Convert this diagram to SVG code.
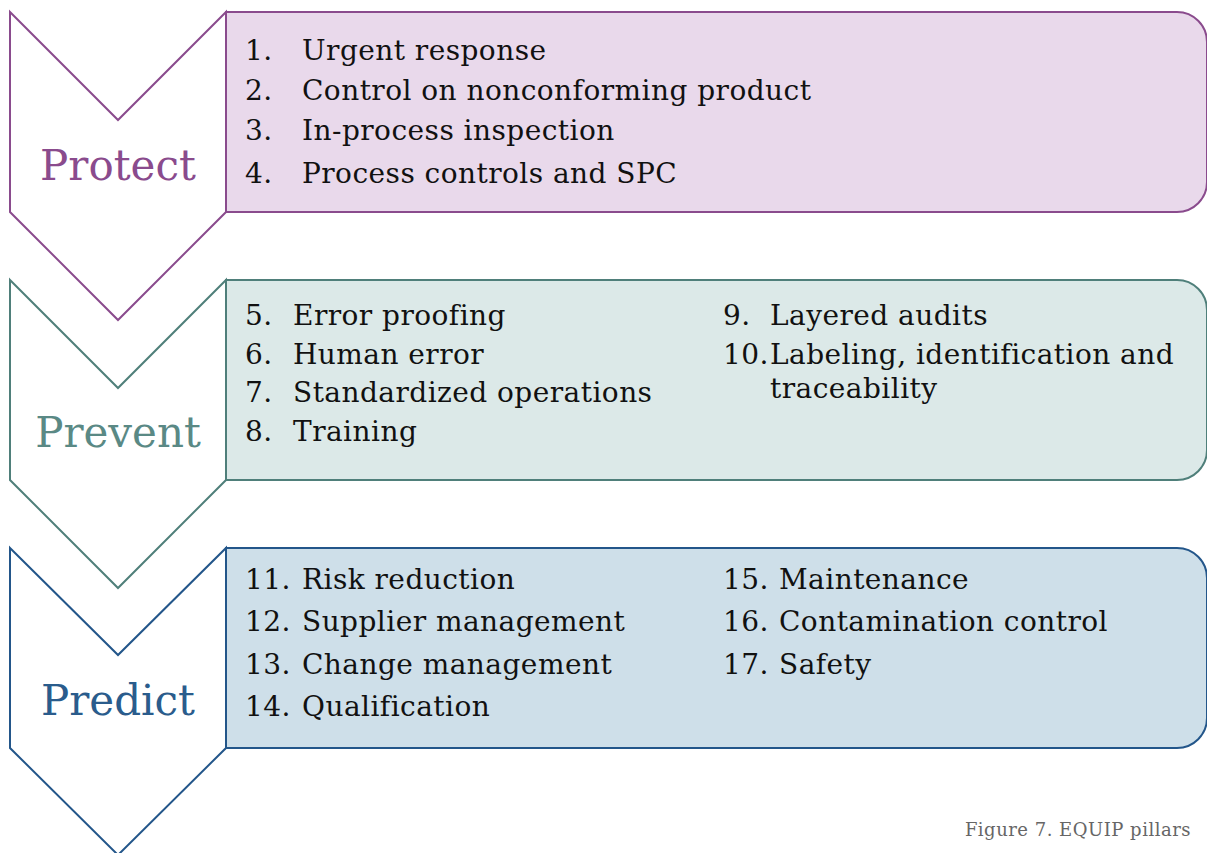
<svg xmlns="http://www.w3.org/2000/svg" width="1207" height="853" viewBox="0 0 1207 853">
<style>
.t{font-family:"DejaVu Serif","Liberation Serif",serif;font-size:28px;letter-spacing:0.45px;fill:#111}
.lbl{font-family:"DejaVu Serif","Liberation Serif",serif;font-size:42px;text-anchor:middle}
.cap{font-family:"DejaVu Serif","Liberation Serif",serif;font-size:18px;letter-spacing:0.5px;fill:#666}
.chev{fill:#fff;stroke-width:2}
.box{stroke-width:2}
</style>
<rect width="1207" height="853" fill="#fff"/>
<g id="protect">
<path class="chev" d="M10,12 L118,120 L226,12 L226,212 L118,320 L10,212 Z" stroke="#8A4B8D"/>
<path class="box" d="M226,12 H1177 A30,30 0 0 1 1207,42 V182 A30,30 0 0 1 1177,212 H226 Z" fill="#E9D9EB" stroke="#8A4B8D"/>
<text class="lbl" x="118" y="180" fill="#8A4B8D">Protect</text>
<text class="t" x="245" y="60">1.</text><text class="t" x="302" y="60">Urgent response</text>
<text class="t" x="245" y="100">2.</text><text class="t" x="302" y="100">Control on nonconforming product</text>
<text class="t" x="245" y="140">3.</text><text class="t" x="302" y="140">In-process inspection</text>
<text class="t" x="245" y="183">4.</text><text class="t" x="302" y="183">Process controls and SPC</text>
</g>
<g id="prevent">
<path class="chev" d="M10,280 L118,388 L226,280 L226,480 L118,588 L10,480 Z" stroke="#4F7F7A"/>
<path class="box" d="M226,280 H1177 A30,30 0 0 1 1207,310 V450 A30,30 0 0 1 1177,480 H226 Z" fill="#DCE9E8" stroke="#4F7F7A"/>
<text class="lbl" x="118" y="447" fill="#5A8985">Prevent</text>
<text class="t" x="245" y="325">5.</text><text class="t" x="293" y="325">Error proofing</text>
<text class="t" x="245" y="364">6.</text><text class="t" x="293" y="364">Human error</text>
<text class="t" x="245" y="402">7.</text><text class="t" x="293" y="402">Standardized operations</text>
<text class="t" x="245" y="441">8.</text><text class="t" x="293" y="441">Training</text>
<text class="t" x="723" y="325">9.</text><text class="t" x="770" y="325">Layered audits</text>
<text class="t" x="723" y="364">10.</text><text class="t" x="770" y="364">Labeling, identification and</text>
<text class="t" x="770" y="398">traceability</text>
</g>
<g id="predict">
<path class="chev" d="M10,548 L118,655 L226,548 L226,748 L118,855 L10,748 Z" stroke="#23568A"/>
<path class="box" d="M226,548 H1177 A30,30 0 0 1 1207,578 V718 A30,30 0 0 1 1177,748 H226 Z" fill="#CEDFE9" stroke="#23568A"/>
<text class="lbl" x="118" y="715" fill="#2A5C8C">Predict</text>
<text class="t" x="245" y="589">11.</text><text class="t" x="302" y="589">Risk reduction</text>
<text class="t" x="245" y="631">12.</text><text class="t" x="302" y="631">Supplier management</text>
<text class="t" x="245" y="674">13.</text><text class="t" x="302" y="674">Change management</text>
<text class="t" x="245" y="716">14.</text><text class="t" x="302" y="716">Qualification</text>
<text class="t" x="723" y="589">15.</text><text class="t" x="779" y="589">Maintenance</text>
<text class="t" x="723" y="631">16.</text><text class="t" x="779" y="631">Contamination control</text>
<text class="t" x="723" y="674">17.</text><text class="t" x="779" y="674">Safety</text>
</g>
<g id="connectors"></g>
<text class="cap" x="1191" y="836" text-anchor="end">Figure 7. EQUIP pillars</text>
</svg>
